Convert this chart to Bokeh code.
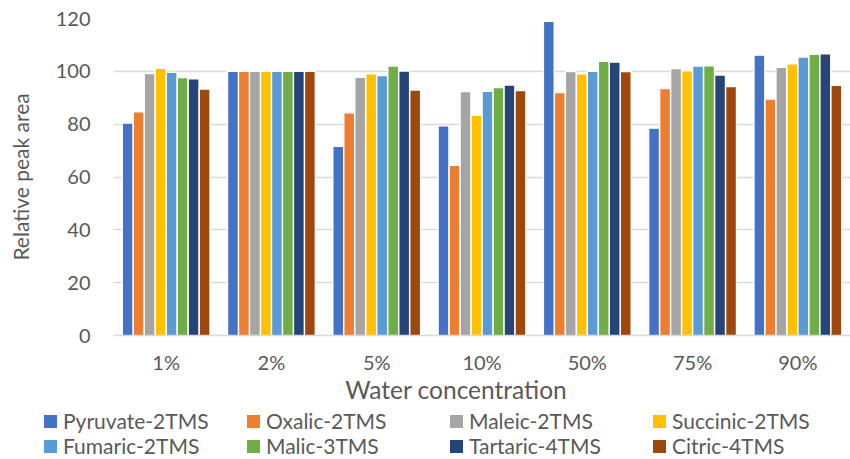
from bokeh.plotting import figure
from bokeh.models import FactorRange, Range1d, FixedTicker, Div
from bokeh.layouts import column
from bokeh.transform import dodge
from bokeh.embed import file_html
from bokeh.resources import INLINE

# Water concentrations (x categories)
concentrations = ["1%", "2%", "5%", "10%", "50%", "75%", "90%"]

# Relative peak area per derivative, one value per water concentration
pyruvate = [80.4, 100.0, 71.6, 79.3, 118.9, 78.5, 106.1]
oxalic = [84.6, 100.0, 84.3, 64.4, 91.9, 93.4, 89.5]
maleic = [99.1, 100.0, 97.7, 92.3, 99.9, 101.0, 101.5]
succinic = [101.1, 100.0, 99.0, 83.3, 99.0, 100.2, 102.8]
fumaric = [99.6, 100.0, 98.4, 92.4, 100.0, 102.0, 105.4]
malic = [97.6, 100.0, 102.0, 93.8, 103.8, 102.1, 106.4]
tartaric = [97.1, 100.0, 100.1, 94.8, 103.5, 98.6, 106.6]
citric = [93.3, 100.0, 92.9, 92.7, 99.9, 94.2, 94.7]

series_names = ["Pyruvate-2TMS", "Oxalic-2TMS", "Maleic-2TMS", "Succinic-2TMS",
                "Fumaric-2TMS", "Malic-3TMS", "Tartaric-4TMS", "Citric-4TMS"]
series_values = [pyruvate, oxalic, maleic, succinic, fumaric, malic, tartaric, citric]
colors = ["#4472C4", "#ED7D31", "#A5A5A5", "#FFC000",
          "#5B9BD5", "#70AD47", "#264478", "#9E480E"]

y_ticks = [0, 20, 40, 60, 80, 100, 120]
x_title = "Water concentration"
y_title = "Relative peak area"

FONT = "Lato"
TEXT = "#595959"
GRID = "#D9D9D9"

# ---- main bar chart ----
p = figure(width=850, height=378,
           x_range=FactorRange(*concentrations, range_padding=0),
           y_range=Range1d(0, 120),
           output_backend="svg", toolbar_location=None,
           min_border_left=113, min_border_right=0,
           min_border_top=18, min_border_bottom=43)
p.outline_line_color = None
p.background_fill_color = "white"
p.border_fill_color = "white"

pitch = 0.1044
source = {"cat": concentrations}
for name, vals in zip(series_names, series_values):
    source[name] = vals

for i, (name, col) in enumerate(zip(series_names, colors)):
    p.vbar(x=dodge("cat", (i - 3.5) * pitch, range=p.x_range), top=name,
           width=pitch * 0.97, bottom=0, source=source,
           fill_color=col, line_color="white", line_width=1.2)

p.xgrid.grid_line_color = None
p.ygrid.grid_line_color = GRID
p.ygrid.grid_line_width = 1.5
p.yaxis.ticker = FixedTicker(ticks=y_ticks)

p.yaxis.axis_line_color = None
p.yaxis.major_tick_line_color = None
p.yaxis.minor_tick_line_color = None
p.yaxis.major_tick_out = 0
p.yaxis.minor_tick_out = 0
p.yaxis.major_label_text_font = FONT
p.yaxis.major_label_text_font_size = "20px"
p.yaxis.major_label_text_color = TEXT
p.yaxis.major_label_standoff = 23
p.yaxis.axis_label = y_title
p.yaxis.axis_label_text_font = FONT
p.yaxis.axis_label_text_font_size = "21px"
p.yaxis.axis_label_text_font_style = "normal"
p.yaxis.axis_label_text_color = TEXT
p.yaxis.axis_label_standoff = 20

p.xaxis.axis_line_color = GRID
p.xaxis.axis_line_width = 1.5
p.xaxis.major_tick_line_color = None
p.xaxis.minor_tick_line_color = None
p.xaxis.major_tick_out = 0
p.xaxis.minor_tick_out = 0
p.xaxis.major_label_text_font = FONT
p.xaxis.major_label_text_font_size = "20px"
p.xaxis.major_label_text_color = TEXT
p.xaxis.major_label_standoff = 14

# ---- x title and legend strip (4 columns x 2 rows, filled row by row) ----
col_left, col_step = 44, 203
row_top, row_step, row_h = 34, 25, 18
parts = [
    f'<div style="position:absolute; left:456px; top:0px; transform:translateX(-50%); '
    f'white-space:nowrap; font-family:{FONT}; font-size:24.5px; line-height:24px; '
    f'color:{TEXT};">{x_title}</div>'
]
for k, (name, col) in enumerate(zip(series_names, colors)):
    r, c = divmod(k, 4)
    parts.append(
        f'<div style="position:absolute; left:{col_left + c * col_step}px; '
        f'top:{row_top + r * row_step}px; height:{row_h}px; display:flex; align-items:center; '
        f'white-space:nowrap;">'
        f'<span style="display:inline-block; width:13px; height:13px; background:{col}; '
        f'margin-right:6px;"></span>'
        f'<span style="font-family:{FONT}; font-size:21px; color:{TEXT}; '
        f'line-height:{row_h}px;">{name}</span>'
        f'</div>'
    )
strip_html = ('<div style="position:relative; width:850px; height:81px; background:white;">'
              + "".join(parts) + '</div>')
strip = Div(text=strip_html, width=850, height=81, margin=0)

layout = column(p, strip, spacing=0)
open("out.html", "w").write(file_html(layout, INLINE))
